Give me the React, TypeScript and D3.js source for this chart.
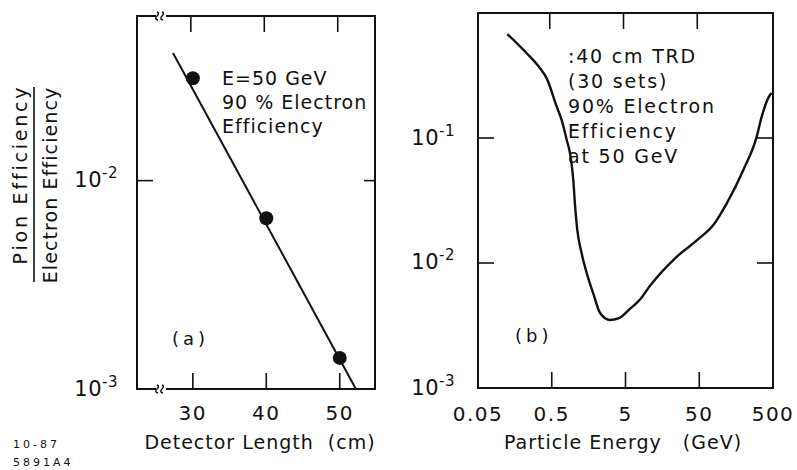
import React from 'react';
import * as d3 from 'd3';

// panel (a): pion/electron efficiency ratio vs detector length
const lengthPoints = [30, 40, 50];
const ratioPoints = [0.031, 0.0066, 0.00141];
const fitLength = [27.3, 52.2];
const fitRatio = [0.041, 0.001];
const lengthTicks = [30, 40, 50];

// panel (b): ratio vs particle energy for 40 cm TRD
const energy = [0.125, 0.229, 0.347, 0.427, 0.584, 0.682, 0.798, 0.884, 0.98, 1.03, 1.11, 1.27, 1.49, 1.83, 2.25, 3.08, 4.0, 5.75, 7.87, 10.6, 24.7, 48.5, 77.5, 118, 198, 300, 351, 455, 480];
const ratioCurve = [0.679, 0.476, 0.361, 0.3, 0.178, 0.139, 0.0964, 0.0755, 0.0461, 0.03, 0.0184, 0.012, 0.0083, 0.0057, 0.004, 0.0035, 0.0036, 0.0043, 0.0051, 0.0065, 0.0112, 0.0155, 0.0201, 0.03, 0.0555, 0.102, 0.148, 0.221, 0.229];
const energyTicks = [0.5, 5, 50];
const energyLabels = ['0.05', '0.5', '5', '50', '500'];
const energyLabelValues = [0.05, 0.5, 5, 50, 500];

const notesA = ['E=50 GeV', '90 % Electron', 'Efficiency'];
const notesB = [':40 cm TRD', '(30 sets)', '90% Electron', 'Efficiency', 'at 50 GeV'];

const font = 'DejaVu Sans, sans-serif';
const ink = '#111';
const pre = { whiteSpace: 'pre' as const };

const Pow = ({ x, y, exp }: { x: number; y: number; exp: string }) => (
  <text x={x} y={y} textAnchor="end" fontSize={21} fontFamily={font} fill={ink} letterSpacing={0.5}>
    10
    <tspan dy={-9} fontSize={15}>
      {exp}
    </tspan>
  </text>
);

const BreakMark = ({ x, y }: { x: number; y: number }) => (
  <g fill="none" stroke={ink} strokeWidth={1.4}>
    <line x1={x - 5} y1={y} x2={x + 5} y2={y} stroke="#fff" strokeWidth={4} />
    <path d={`M${x - 4},${y - 4} q3,1 0,4 q-3,3 1,4`} />
    <path d={`M${x + 1},${y - 4} q3,1 0,4 q-3,3 1,4`} />
  </g>
);

const App: React.FC = () => {
  // panel (a) scales
  const xA = d3.scaleLinear().domain([22.4, 54.8]).range([137, 375]);
  const yA = d3.scaleLog().domain([1e-3, Math.pow(10, -1.21)]).range([389, 16]);
  // panel (b) scales
  const xB = d3.scaleLog().domain([0.05, 500]).range([478, 773]);
  const yB = d3.scaleLog().domain([1e-3, 1]).range([388, 13]);

  const fitLine = d3
    .line<number>()
    .x((d) => xA(d))
    .y((_, i) => yA(fitRatio[i]));

  const curve = d3
    .line<number>()
    .x((d) => xB(d))
    .y((_, i) => yB(ratioCurve[i]))
    .curve(d3.curveMonotoneX);

  const tickLen = 16;
  const [a0, a1] = xA.range();
  const [aB, aT] = yA.range();
  const [b0, b1] = xB.range();
  const [bB, bT] = yB.range();

  return (
    <svg width={797} height={470} style={{ position: 'absolute', left: 0, top: 0, background: '#fff' }}>
      {/* ---------- panel (a) ---------- */}
      <rect x={a0} y={aT} width={a1 - a0} height={aB - aT} fill="none" stroke={ink} strokeWidth={2} />
      <BreakMark x={161} y={aT} />
      <BreakMark x={161} y={aB} />
      {lengthTicks.map((t) => (
        <g key={t} stroke={ink} strokeWidth={1.6}>
          <line x1={xA(t)} x2={xA(t)} y1={aB} y2={aB - tickLen} />
          <line x1={xA(t) - 2} x2={xA(t) - 2} y1={aT} y2={aT + tickLen} />
        </g>
      ))}
      <line x1={a0} x2={a0 + tickLen} y1={yA(1e-2)} y2={yA(1e-2)} stroke={ink} strokeWidth={1.6} />
      <line x1={a1} x2={a1 - 11} y1={yA(1e-2)} y2={yA(1e-2)} stroke={ink} strokeWidth={1.6} />
      {lengthTicks.map((t) => (
        <text key={t} x={xA(t)} y={420} textAnchor="middle" fontSize={20} fontFamily={font} fill={ink} letterSpacing={1.5}>
          {t}
        </text>
      ))}
      <Pow x={118} y={187} exp="-2" />
      <Pow x={118} y={396} exp="-3" />
      <path d={fitLine(fitLength) ?? ''} fill="none" stroke={ink} strokeWidth={2} />
      {lengthPoints.map((d, i) => (
        <circle key={d} cx={xA(d)} cy={yA(ratioPoints[i])} r={7} fill={ink} />
      ))}
      {notesA.map((s, i) => (
        <text key={s} x={222} y={85 + i * 24} fontSize={19} fontFamily={font} fill={ink} letterSpacing={1} style={pre}>
          {s}
        </text>
      ))}
      <text x={172} y={345} fontSize={18} fontFamily={font} fill={ink} letterSpacing={4}>
        (a)
      </text>
      <text x={260} y={449} textAnchor="middle" fontSize={19} fontFamily={font} fill={ink} letterSpacing={1} style={pre}>
        Detector Length  (cm)
      </text>

      {/* y-axis label as a fraction */}
      <g transform="rotate(-90)">
        <text x={-174.5} y={27} textAnchor="middle" fontSize={19} fontFamily={font} fill={ink} letterSpacing={2.8}>
          Pion Efficiency
        </text>
        <line x1={-282} x2={-87} y1={34} y2={34} stroke={ink} strokeWidth={1.6} />
        <text x={-185} y={57} textAnchor="middle" fontSize={19} fontFamily={font} fill={ink} letterSpacing={1.1}>
          Electron Efficiency
        </text>
      </g>

      <text x={13} y={448} fontSize={11} fontFamily={font} fill={ink} letterSpacing={3}>
        10-87
      </text>
      <text x={13} y={466} fontSize={11} fontFamily={font} fill={ink} letterSpacing={3}>
        5891A4
      </text>

      {/* ---------- panel (b) ---------- */}
      <rect x={b0} y={bT} width={b1 - b0} height={bB - bT} fill="none" stroke={ink} strokeWidth={2} />
      {energyTicks.map((t) => (
        <g key={t} stroke={ink} strokeWidth={1.6}>
          <line x1={xB(t)} x2={xB(t)} y1={bB} y2={bB - tickLen} />
          <line x1={xB(t) - 2} x2={xB(t) - 2} y1={bT} y2={bT + tickLen} />
        </g>
      ))}
      {[1e-1, 1e-2].map((t) => (
        <g key={t} stroke={ink} strokeWidth={1.6}>
          <line x1={b0} x2={b0 + tickLen} y1={yB(t)} y2={yB(t)} />
          <line x1={b1} x2={b1 - tickLen} y1={yB(t)} y2={yB(t)} />
        </g>
      ))}
      {energyLabels.map((s, i) => (
        <text key={s} x={xB(energyLabelValues[i])} y={421} textAnchor="middle" fontSize={20} fontFamily={font} fill={ink} letterSpacing={1.5}>
          {s}
        </text>
      ))}
      <Pow x={455} y={145} exp="-1" />
      <Pow x={455} y={269} exp="-2" />
      <Pow x={455} y={395} exp="-3" />
      <path d={curve(energy) ?? ''} fill="none" stroke={ink} strokeWidth={2.4} />
      {notesB.map((s, i) => (
        <text key={s} x={568} y={63 + i * 25} fontSize={19} fontFamily={font} fill={ink} letterSpacing={1.8} style={pre}>
          {s}
        </text>
      ))}
      <text x={515} y={342} fontSize={18} fontFamily={font} fill={ink} letterSpacing={4}>
        (b)
      </text>
      <text x={623} y={449} textAnchor="middle" fontSize={19} fontFamily={font} fill={ink} letterSpacing={1} style={pre}>
        Particle Energy   (GeV)
      </text>
    </svg>
  );
};

export default App;
